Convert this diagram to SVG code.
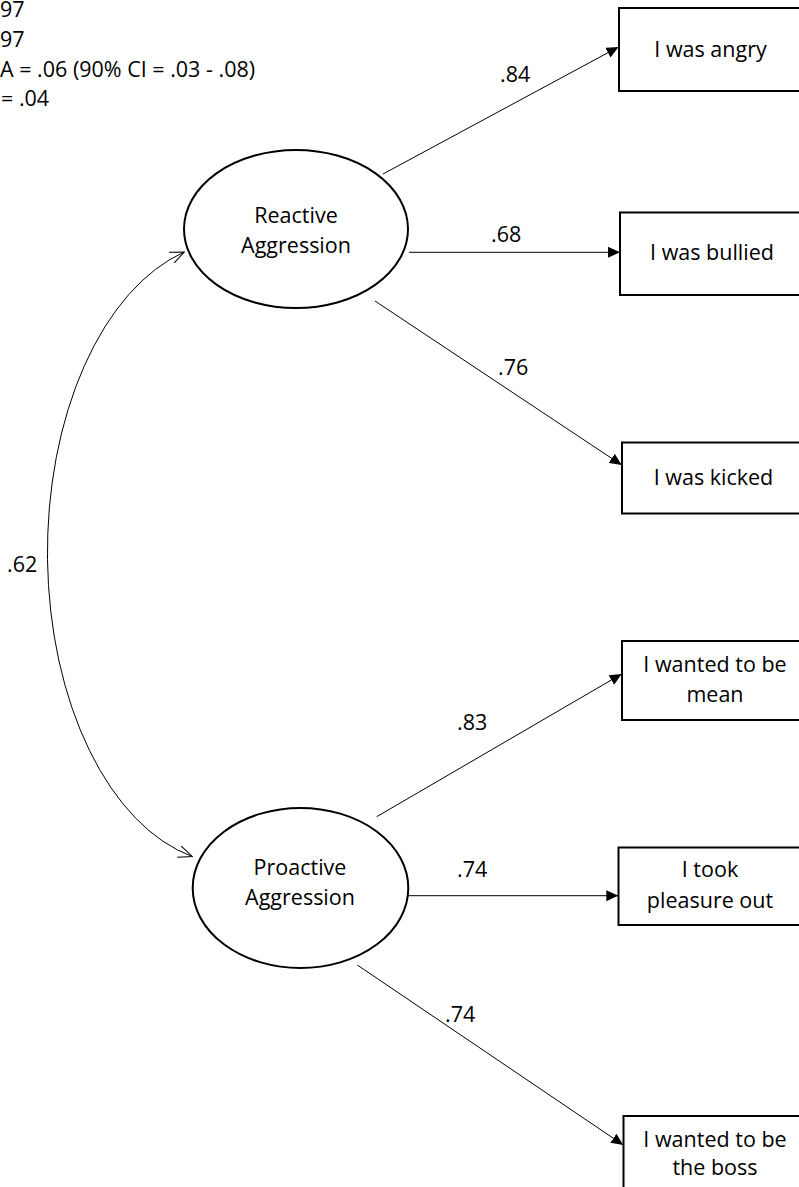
<svg xmlns="http://www.w3.org/2000/svg" width="799" height="1187" viewBox="0 0 799 1187">
  <style>
    text { font-family: "Open Sans", "Liberation Sans", sans-serif; font-size: 21.5px; fill: #000; }
    .mid { text-anchor: middle; }
    .node { fill: #fff; stroke: #000; stroke-width: 2; }
    .edge { fill: none; stroke: #000; stroke-width: 1; }
  </style>
  <defs>
    <marker id="arrow" markerUnits="userSpaceOnUse" viewBox="0 0 12 11" refX="12" refY="5.5" markerWidth="12" markerHeight="11" orient="auto">
      <path d="M0,0 L12,5.5 L0,11 z" fill="#000"/>
    </marker>
    <marker id="open" markerUnits="userSpaceOnUse" viewBox="0 0 15 13" refX="14" refY="6.5" markerWidth="15" markerHeight="13" orient="auto-start-reverse">
      <path d="M0,0.5 L14,6.5 L0,12.5" fill="none" stroke="#000" stroke-width="1"/>
    </marker>
  </defs>
  <rect width="799" height="1187" fill="#fff"/>

  <g id="fit-indices">
    <text x="0" y="17">97</text>
    <text x="0" y="47">97</text>
    <text x="0" y="77">A = .06 (90% CI = .03 - .08)</text>
    <text x="1" y="106">= .04</text>
  </g>

  <g id="connectors">
    <path class="edge" d="M184.3,252 A184,311 0 0 0 192.3,856.5" marker-start="url(#open)" marker-end="url(#open)"/>
    <line class="edge" x1="383" y1="174" x2="618.5" y2="47" marker-end="url(#arrow)"/>
    <line class="edge" x1="409" y1="252.3" x2="620" y2="252.3" marker-end="url(#arrow)"/>
    <line class="edge" x1="375" y1="301" x2="621.7" y2="465" marker-end="url(#arrow)"/>
    <line class="edge" x1="376.7" y1="816.7" x2="621.7" y2="674" marker-end="url(#arrow)"/>
    <line class="edge" x1="408.3" y1="895.7" x2="618.3" y2="895.7" marker-end="url(#arrow)"/>
    <line class="edge" x1="357.3" y1="965" x2="623.3" y2="1145" marker-end="url(#arrow)"/>
    <text x="7" y="572">.62</text>
    <text x="500" y="82">.84</text>
    <text x="491" y="242">.68</text>
    <text x="498" y="375">.76</text>
    <text x="457" y="730">.83</text>
    <text x="457" y="877">.74</text>
    <text x="445" y="1022">.74</text>
  </g>

  <g id="reactive">
    <ellipse class="node" cx="296" cy="229" rx="112" ry="79"/>
    <text class="mid" x="296" y="223">Reactive</text>
    <text class="mid" x="296" y="253">Aggression</text>
  </g>

  <g id="proactive">
    <ellipse class="node" cx="300.5" cy="888" rx="107.8" ry="80"/>
    <text class="mid" x="300" y="875">Proactive</text>
    <text class="mid" x="300" y="905">Aggression</text>
  </g>

  <g id="angry">
    <rect class="node" x="619" y="8" width="190" height="83"/>
    <text class="mid" x="710.5" y="57">I was angry</text>
  </g>

  <g id="bullied">
    <rect class="node" x="620" y="212.5" width="190" height="82.5"/>
    <text class="mid" x="712" y="260">I was bullied</text>
  </g>

  <g id="kicked">
    <rect class="node" x="622" y="442.5" width="190" height="71"/>
    <text class="mid" x="713.5" y="485">I was kicked</text>
  </g>

  <g id="mean">
    <rect class="node" x="622" y="641" width="190" height="79"/>
    <text class="mid" x="715" y="672">I wanted to be</text>
    <text class="mid" x="715" y="702">mean</text>
  </g>

  <g id="pleasure">
    <rect class="node" x="618.5" y="847.5" width="190" height="77.5"/>
    <text class="mid" x="710" y="877">I took</text>
    <text class="mid" x="710" y="908">pleasure out</text>
  </g>

  <g id="boss">
    <rect class="node" x="623.5" y="1116" width="190" height="90"/>
    <text class="mid" x="715" y="1147">I wanted to be</text>
    <text class="mid" x="715" y="1175">the boss</text>
  </g>
</svg>
